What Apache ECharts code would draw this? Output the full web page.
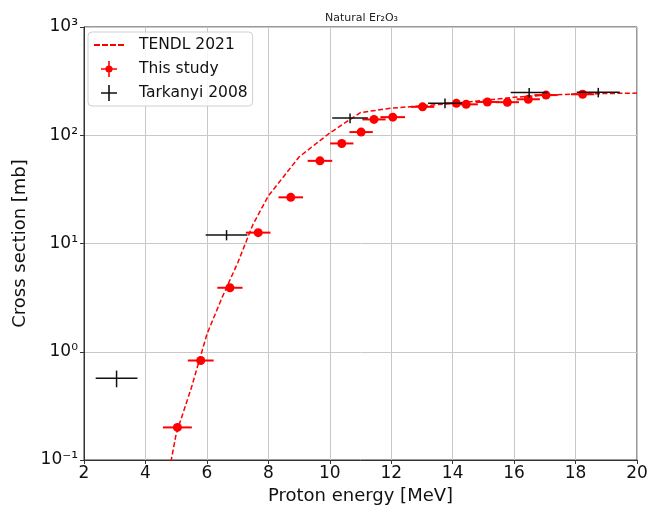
<!DOCTYPE html>
<html>
<head>
<meta charset="utf-8">
<script src="https://cdn.jsdelivr.net/npm/echarts@6/dist/echarts.min.js"></script>
<style>
  html, body { margin: 0; padding: 0; background: #fff; }
  #chart { width: 648px; height: 506px; }
</style>
</head>
<body>
<div id="chart"></div>
<script>
// TENDL 2021 evaluated excitation function
const tendlEnergy = [4.7, 4.8, 5.0, 5.5, 6.0, 6.5, 7.0, 7.5, 8.0, 9.0, 10.0, 11.0, 12.0, 13.0, 14.0, 15.0, 16.0, 17.0, 18.0, 19.0, 20.0];
const tendlXS     = [0.06, 0.087, 0.174, 0.47, 1.45, 3.2, 6.6, 15, 27.5, 63, 105, 162, 178, 187, 197, 210, 224, 234, 240, 243, 245];

// This study: energy, cross section and their uncertainties
const studyEnergy = [5.04, 5.80, 6.75, 7.67, 8.73, 9.68, 10.39, 11.02, 11.44, 12.05, 13.02, 14.12, 14.44, 15.13, 15.78, 16.46, 17.04, 18.23];
const studyXS     = [0.20, 0.83, 3.9, 12.6, 26.7, 58, 84, 107, 140, 147, 183, 197, 193, 203, 202, 215, 235, 239];
const studyEErr   = [0.47, 0.42, 0.41, 0.40, 0.40, 0.40, 0.38, 0.38, 0.38, 0.40, 0.38, 0.38, 0.38, 0.38, 0.38, 0.38, 0.38, 0.38];
const studyXSErr  = [0.015, 0.06, 0.3, 0.9, 1.9, 4, 6, 7.5, 10, 10, 13, 14, 14, 14, 14, 15, 16, 17];

// Tarkanyi 2008
const tarkEnergy = [3.06, 6.64, 10.66, 13.75, 16.49, 18.74];
const tarkXS     = [0.57, 12.0, 144, 198, 248, 249];
const tarkEErr   = [0.68, 0.68, 0.58, 0.55, 0.60, 0.70];
const tarkXSErr  = [0.10, 1.3, 15, 20, 25, 25];

// Axis settings
const xTicks = { min: 2, max: 20, interval: 2 };
const yRange = { min: 0.1, max: 1000 };

const FONT = 'DejaVu Sans';
const RED = '#ff0000';

const supMap = { '-': '\u207B', '0': '\u2070', '1': '\u00B9', '2': '\u00B2', '3': '\u00B3', '4': '\u2074', '5': '\u2075', '6': '\u2076', '7': '\u2077', '8': '\u2078', '9': '\u2079' };
function powLabel(v) {
  const e = String(Math.round(Math.log10(v)));
  return '10' + e.split('').map(c => supMap[c]).join('');
}

function errRows(xs, ys, xe, ye) {
  return xs.map((x, i) => [x, ys[i], x - xe[i], x + xe[i], ys[i] - ye[i], ys[i] + ye[i]]);
}

function errorBarRenderer(color, width) {
  return function (params, api) {
    const y = api.value(1);
    const x = api.value(0);
    const left = api.coord([api.value(2), y]);
    const right = api.coord([api.value(3), y]);
    const low = api.coord([x, api.value(4)]);
    const high = api.coord([x, api.value(5)]);
    const style = { stroke: color, lineWidth: width };
    return {
      type: 'group',
      children: [
        { type: 'line', shape: { x1: left[0], y1: left[1], x2: right[0], y2: right[1] }, style: style },
        { type: 'line', shape: { x1: low[0], y1: low[1], x2: high[0], y2: high[1] }, style: style }
      ]
    };
  };
}

const chart = echarts.init(document.getElementById('chart'), null, { renderer: 'canvas' });

// legend glyphs
const dashPath = 'path://M0,9h6v2h-6z M8,9h6v2h-6z M16,9h6v2h-6z M24,9h6v2h-6z';
const crossPath = 'path://M0,9h20v2h-20z M9,0h2v20h-2z';
const dotCrossPath = 'path://M0,9h20v2h-20z M9,0h2v20h-2z M5.5,10a4.5,4.5 0 1,1 9,0a4.5,4.5 0 1,1 -9,0z';

chart.setOption({
  animation: false,
  backgroundColor: '#ffffff',
  title: {
    text: 'Natural Er\u2082O\u2083',
    left: 320,
    top: 8,
    textStyle: { fontFamily: FONT, fontSize: 11, fontWeight: 'normal', color: '#222' }
  },
  grid: {
    left: 84, right: 11, top: 27, bottom: 46,
    outerBoundsMode: 'none',
    containLabel: false,
    show: true, borderColor: '#333', borderWidth: 1, backgroundColor: 'transparent'
  },
  legend: {
    orient: 'vertical',
    left: 88, top: 32,
    padding: [5, 5, 5, 6],
    itemGap: 8,
    itemWidth: 30,
    itemHeight: 16,
    backgroundColor: 'rgba(255,255,255,0.85)',
    borderColor: '#d0d0d0',
    borderWidth: 1,
    borderRadius: 4,
    textStyle: { fontFamily: FONT, fontSize: 15.5, color: '#111', padding: [0, 0, 0, 10] },
    data: [
      { name: 'TENDL 2021', icon: dashPath, itemStyle: { color: RED, borderWidth: 0 } },
      { name: 'This study', icon: dotCrossPath, itemStyle: { color: RED, borderWidth: 0 } },
      { name: 'Tarkanyi 2008', icon: crossPath, itemStyle: { color: '#111', borderWidth: 0 } }
    ]
  },
  xAxis: {
    type: 'value',
    min: xTicks.min, max: xTicks.max, interval: xTicks.interval,
    name: 'Proton energy [MeV]',
    nameLocation: 'middle',
    nameGap: 25,
    nameTextStyle: { fontFamily: FONT, fontSize: 18, color: '#111' },
    axisLine: { show: true, onZero: false, lineStyle: { color: '#333' } },
    axisTick: { show: true, length: 4, lineStyle: { color: '#333' } },
    axisLabel: { fontFamily: FONT, fontSize: 17, color: '#111', margin: 5 },
    splitLine: { show: true, lineStyle: { color: '#c8c8c8', width: 1 } }
  },
  yAxis: {
    type: 'log',
    logBase: 10,
    min: yRange.min, max: yRange.max,
    name: 'Cross section [mb]',
    nameLocation: 'middle',
    nameGap: 55,
    nameTextStyle: { fontFamily: FONT, fontSize: 18, color: '#111' },
    axisLine: { show: true, lineStyle: { color: '#333' } },
    axisTick: { show: true, length: 4, lineStyle: { color: '#333' } },
    axisLabel: { fontFamily: FONT, fontSize: 17, color: '#111', margin: 6, formatter: powLabel },
    splitLine: { show: true, lineStyle: { color: '#c8c8c8', width: 1 } }
  },
  series: [
    {
      name: 'TENDL 2021',
      type: 'line',
      data: tendlEnergy.map((e, i) => [e, tendlXS[i]]),
      symbol: 'none',
      clip: true,
      lineStyle: { color: RED, width: 1.5, type: [5, 2.5] },
      itemStyle: { color: RED },
      z: 3
    },
    {
      name: 'This study',
      type: 'scatter',
      data: studyEnergy.map((e, i) => [e, studyXS[i]]),
      symbol: 'circle',
      symbolSize: 9,
      itemStyle: { color: RED, opacity: 1 },
      z: 5
    },
    {
      name: 'This study',
      type: 'custom',
      renderItem: errorBarRenderer(RED, 2),
      data: errRows(studyEnergy, studyXS, studyEErr, studyXSErr),
      itemStyle: { color: RED },
      z: 4
    },
    {
      name: 'Tarkanyi 2008',
      type: 'custom',
      renderItem: errorBarRenderer('#111', 1.5),
      data: errRows(tarkEnergy, tarkXS, tarkEErr, tarkXSErr),
      itemStyle: { color: '#111' },
      z: 6
    }
  ]
});
</script>
</body>
</html>
